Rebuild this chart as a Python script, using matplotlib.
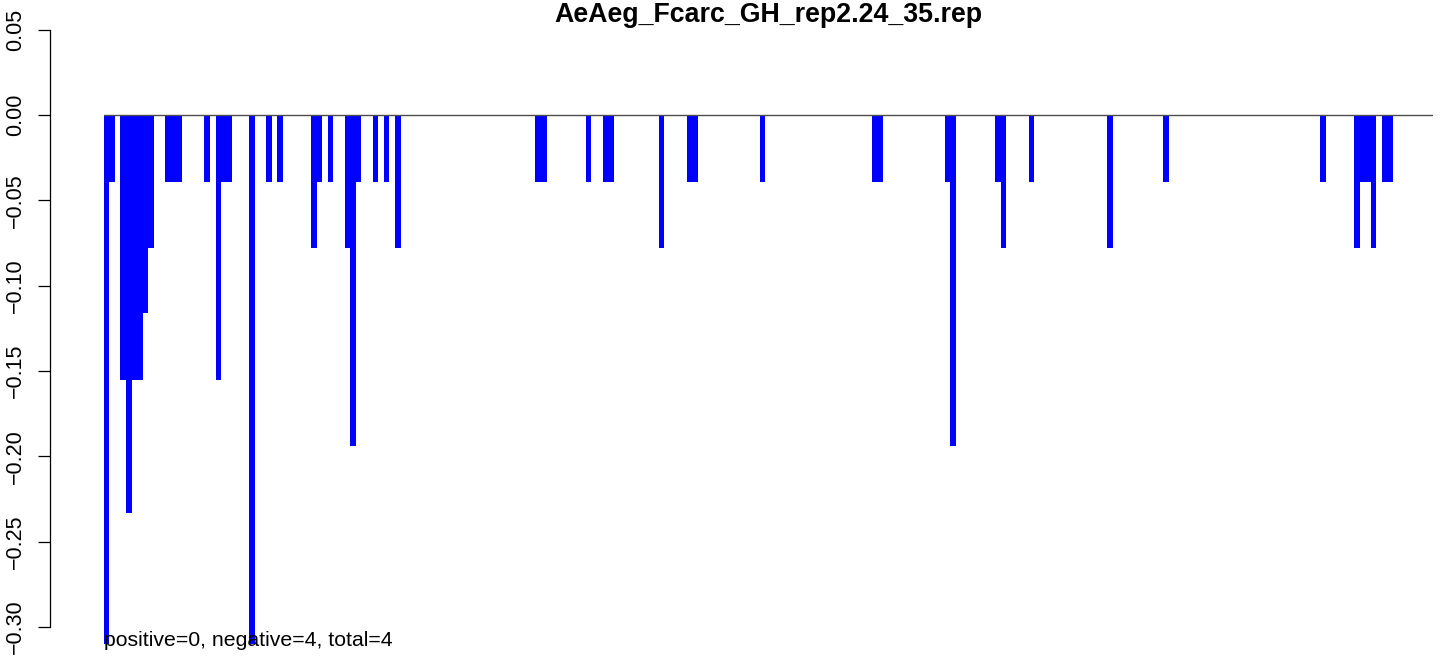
import numpy as np
import matplotlib
matplotlib.use("Agg")
import matplotlib.pyplot as plt

plt.rcParams['font.family'] = ['Liberation Sans', 'DejaVu Sans']

# --- Data ---
TITLE = "AeAeg_Fcarc_GH_rep2.24_35.rep"
N_POS = 237  # number of bar slots along the x axis
positions = [0, 1, 3, 4, 5, 6, 7, 8, 11, 12, 13, 18, 20, 21, 22, 26, 29, 31,
             37, 38, 40, 43, 44, 45, 48, 50, 52, 77, 78, 86, 89, 90, 99,
             104, 105, 117, 137, 138, 150, 151, 159, 160, 165, 179, 189,
             217, 223, 224, 225, 226, 228, 229]
values = [-0.310, -0.039, -0.155, -0.233, -0.155, -0.155, -0.116, -0.078,
          -0.039, -0.039, -0.039, -0.039, -0.155, -0.039, -0.039, -0.310,
          -0.039, -0.039, -0.078, -0.039, -0.039, -0.078, -0.194, -0.039,
          -0.039, -0.039, -0.078, -0.039, -0.039, -0.039, -0.039, -0.039,
          -0.078, -0.039, -0.039, -0.039, -0.039, -0.039, -0.039, -0.194,
          -0.039, -0.078, -0.039, -0.078, -0.039, -0.039, -0.078, -0.039,
          -0.039, -0.078, -0.039, -0.039]
yticks = [0.05, 0.00, -0.05, -0.10, -0.15, -0.20, -0.25, -0.30]
ytick_labels = ["0.05", "0.00", "\u22120.05", "\u22120.10", "\u22120.15",
                "\u22120.20", "\u22120.25", "\u22120.30"]
FOOTER = "positive=0, negative=4, total=4"

# --- Figure ---
W, H = 1444, 657
fig = plt.figure(figsize=(W / 100, H / 100), dpi=100)
ax = fig.add_axes([103.5 / W, 1 - 650 / H, 1329 / W, 630 / H])

heights = np.zeros(N_POS)
heights[positions] = values
ax.bar(np.arange(N_POS), heights, width=1.0, align='edge',
       color='#0000ff', linewidth=0, antialiased=False)
ax.axhline(0, color='#4d4d4d', lw=1)

px_per_unit = 1706.7
ax.set_xlim(0, N_POS)
ax.set_ylim(-(650 - 115) / px_per_unit, (115 - 20) / px_per_unit)

# y axis drawn R-style, detached to the left of the plot region
for side in ['top', 'right', 'bottom']:
    ax.spines[side].set_visible(False)
ax.spines['left'].set_position(('outward', 53.5 * 0.72))
ax.spines['left'].set_bounds(-0.30, 0.05)
ax.spines['left'].set_linewidth(0.9)
ax.set_xticks([])
ax.set_yticks(yticks)
ax.set_yticklabels(ytick_labels)
ax.tick_params(axis='y', length=12 * 0.72, width=0.9, pad=12 * 0.72,
               labelsize=15.5, labelrotation=90)
for lbl in ax.get_yticklabels():
    lbl.set_va('center')

fig.text(768.5 / W, 1 - 15 / H, TITLE, ha='center', va='center',
         fontsize=19.3, fontweight='bold')
ax.text(0, -(640 - 115) / px_per_unit, FOOTER, ha='left', va='center',
        fontsize=15.3)

fig.savefig('out.png', dpi=100)
